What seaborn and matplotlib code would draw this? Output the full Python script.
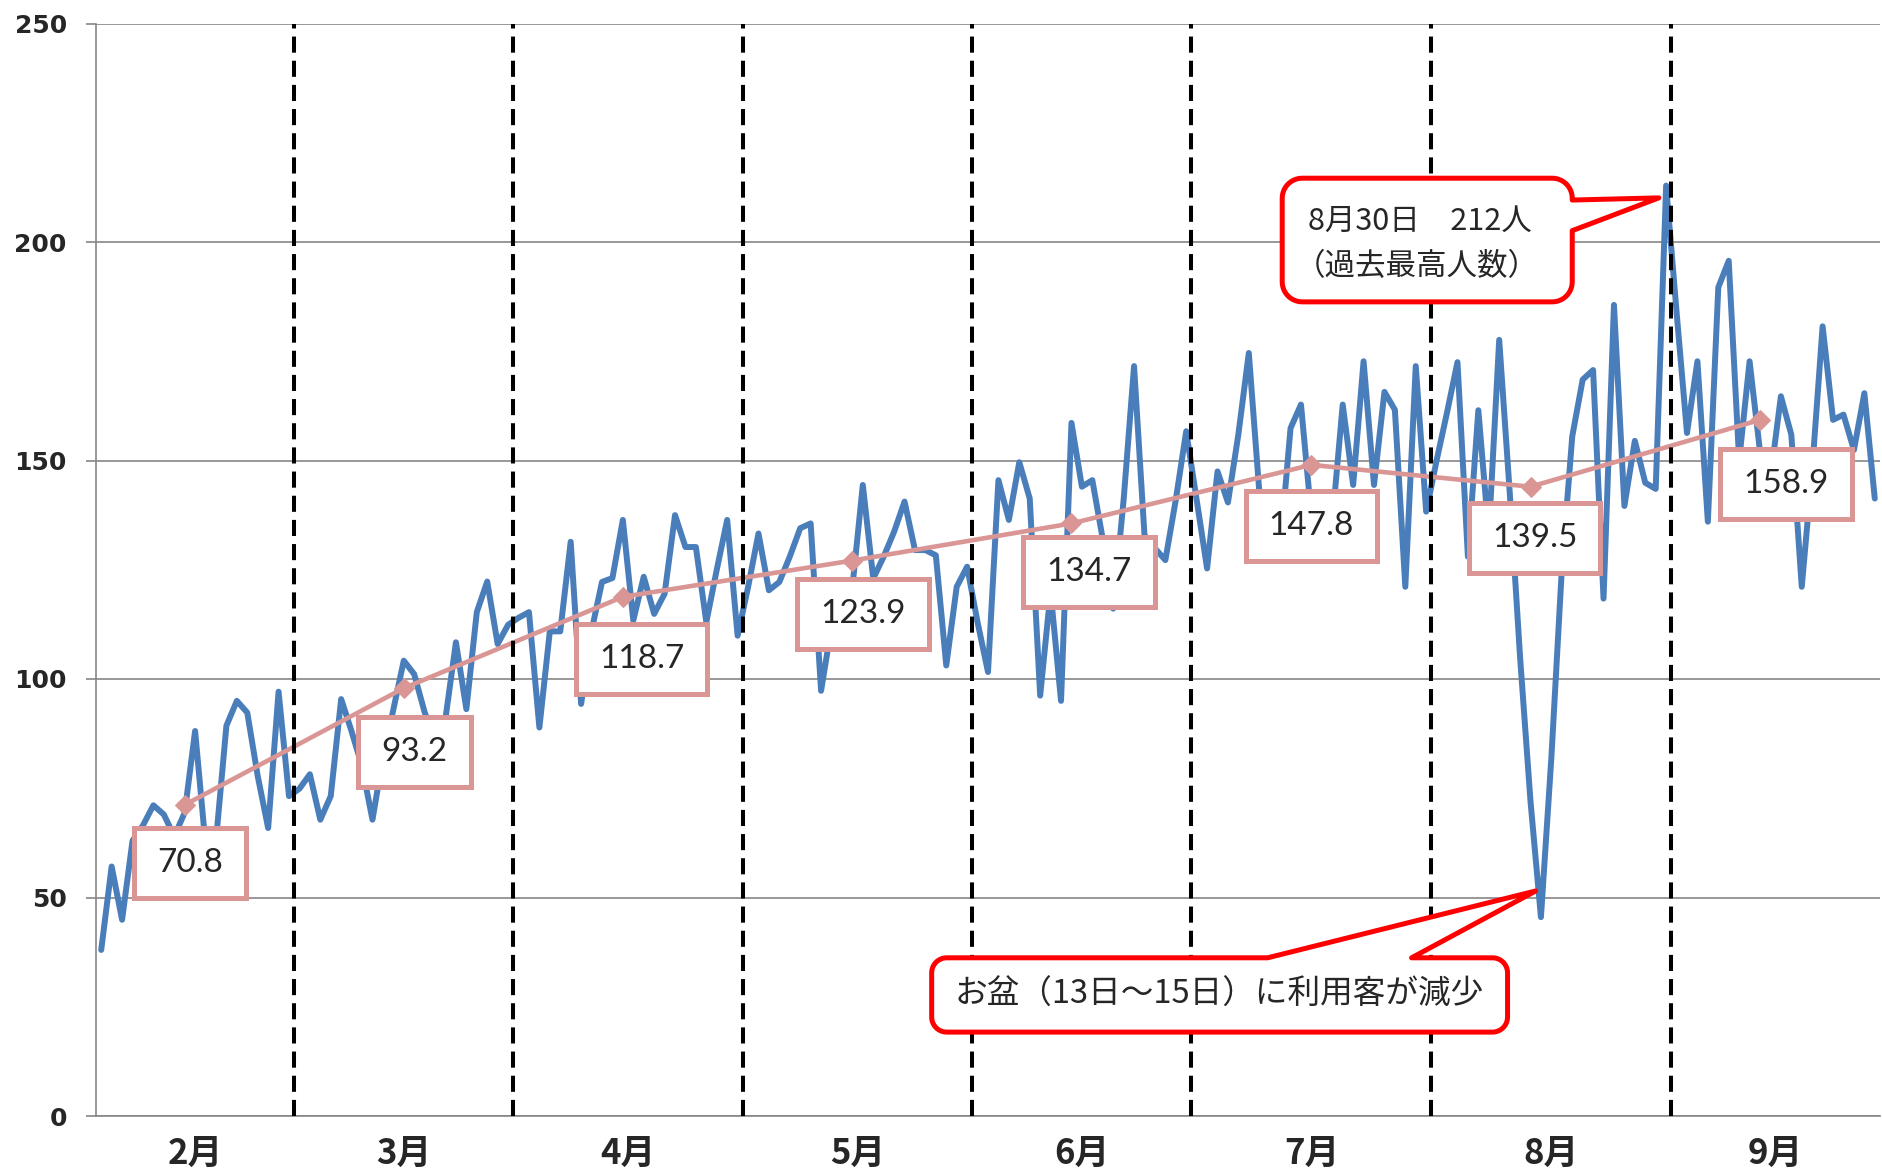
import numpy as np
import pandas as pd
import matplotlib
matplotlib.use('Agg')
import matplotlib.pyplot as plt
import seaborn as sns
from matplotlib.patches import Rectangle, Polygon


MONTHS = ['2月', '3月', '4月', '5月', '6月', '7月', '8月', '9月']

# daily visitors, one list per month (operating days only)
feb = [38.0, 57.1, 44.9, 63, 66.5, 71.1, 69.0, 64, 69.4, 88.1, 62, 63, 89.3,
       95.0, 92.3, 77.8, 65.9, 97.1, 73.2]
mar = [74.9, 78.2, 67.8, 73.2, 95.4, 88, 80, 67.8, 82, 93, 104.2, 101.1, 92.4,
       86, 91, 108.4, 93.1, 115.3, 122.3, 108, 112.4]
apr = [114, 115.3, 88.9, 110.9, 110.9, 131.4, 94.3, 111, 122.2, 123.1, 136.4,
       113.4, 123.4, 114.9, 119.5, 137.5, 130.2, 130.2, 113.0, 125, 136.4, 109.9]
may = [121, 133.3, 120.3, 122.2, 128, 134.5, 135.6, 97.3, 112, 110, 121, 144.4,
       123.0, 128, 133.7, 140.6, 129.5, 129.5, 128.3, 103.1, 121.1, 125.7]
jun = [113, 101.6, 145.5, 136.4, 149.6, 141.3, 96.2, 120, 95.0, 158.6, 144.0,
       145.5, 132, 116.1, 141, 171.6, 132.9, 129.9, 127.2, 141, 156.7]
jul = [141, 125.3, 147.5, 140.4, 156, 174.6, 143, 133, 130, 157.4, 162.8, 137,
       131, 136, 162.8, 144.4, 172.7, 144.4, 165.7, 161.6, 121.1, 171.6, 138.3]
aug = [150, 161, 172.5, 128, 161.5, 133, 177.6, 143, 105, 72, 45.5, 82, 125,
       155.5, 168.5, 170.7, 118.4, 185.6, 139.6, 154.5, 144.9, 143.5, 212.9]
sep = [184, 156.3, 172.7, 136, 189.6, 195.7, 150, 172.7, 152, 146, 164.7, 155.9,
       121.1, 148, 180.7, 159.3, 160.5, 152.4, 165.4, 141.3]

# monthly average series (as plotted) and the labels typed in the boxes
avg_day = [8, 29, 50, 72, 93, 116, 137, 159]
avg_line = [71.2, 97.9, 118.8, 127.1, 135.6, 149.0, 144.0, 159.3]
avg_text = ['70.8', '93.2', '118.7', '123.9', '134.7', '147.8', '139.5', '158.9']

# label box centres (day, value)
box_xy = [(8.5, 58.0), (30.0, 83.4), (51.8, 104.6), (73.0, 114.8),
          (94.7, 124.4), (116.0, 135.0), (137.4, 132.2), (161.5, 144.6)]

BLUE = '#4A7EBB'
PINK = '#D99694'
RED = '#FF0000'
GRID = '#868686'
CJK = ['Noto Sans CJK JP', 'DejaVu Sans']


def build_frame():
    month_lists = [feb, mar, apr, may, jun, jul, aug, sep]
    values, labels = [], []
    for name, vals in zip(MONTHS, month_lists):
        values += vals
        labels += [name] * len(vals)
    df = pd.DataFrame({'day': np.arange(len(values)), 'visitors': values,
                       'month': labels})
    return df


def callout_points(x0, y0, x1, y1, rx, ry, side, base, tip):
    pts = []

    def arc(cx, cy, a0, a1):
        for t in np.linspace(a0, a1, 12):
            pts.append((cx + rx * np.cos(t), cy + ry * np.sin(t)))

    arc(x0 + rx, y0 + ry, np.pi, 1.5 * np.pi)
    arc(x1 - rx, y0 + ry, 1.5 * np.pi, 2 * np.pi)
    if side == 'right':
        pts += [(x1, base[0]), tip, (x1, base[1])]
    arc(x1 - rx, y1 - ry, 0, 0.5 * np.pi)
    if side == 'top':
        pts += [(base[1], y1), tip, (base[0], y1)]
    arc(x0 + rx, y1 - ry, 0.5 * np.pi, np.pi)
    return pts


def draw_callout(ax, box, side, base, tip, radius_px):
    t = ax.transData
    sx = t.transform((1, 0))[0] - t.transform((0, 0))[0]
    sy = t.transform((0, 1))[1] - t.transform((0, 0))[1]
    pts = callout_points(box[0], box[1], box[2], box[3],
                         radius_px / sx, radius_px / sy, side, base, tip)
    ax.add_patch(Polygon(pts, closed=True, facecolor='white', edgecolor=RED,
                         linewidth=3.6, joinstyle='round', zorder=8,
                         clip_on=False))


def plot_chart(df):
    sns.set_style('white')
    plt.rcParams['font.family'] = ['DejaVu Sans']
    fig = plt.figure(figsize=(18.83, 11.75), dpi=100)
    ax = fig.add_axes([96 / 1883, 1 - 1116 / 1175, 1784 / 1883, 1092.5 / 1175])

    sns.lineplot(data=df, x='day', y='visitors', color=BLUE, linewidth=4.3,
                 ax=ax, zorder=3)
    avg_df = pd.DataFrame({'day': avg_day, 'avg': avg_line})
    sns.lineplot(data=avg_df, x='day', y='avg', color=PINK, linewidth=3.3,
                 marker='D', markersize=10, markeredgecolor=PINK, ax=ax, zorder=4)

    n = len(df)
    ax.set_xlim(-0.5, n - 0.5)
    ax.set_ylim(0, 250)

    counts = df.groupby('month', sort=False).size().values
    starts = np.concatenate([[0], np.cumsum(counts)[:-1]])
    centers = starts + (counts - 1) / 2
    for b in np.cumsum(counts)[:-1]:
        ax.axvline(b - 0.5, color='black', linewidth=2.9, ls=(0, (4, 2)),
                   zorder=5)

    ax.set_yticks(range(0, 251, 50))
    ax.yaxis.grid(True, color=GRID, linewidth=1.2)
    ax.set_axisbelow(True)
    ax.set_xticks(centers)
    ax.set_xticklabels(MONTHS, family=CJK, fontsize=25, fontweight='bold')
    for lab in ax.get_yticklabels():
        lab.set_fontweight('bold')
        lab.set_fontsize(18)
    ax.tick_params(axis='x', length=0, pad=14)
    ax.tick_params(axis='y', length=7, width=1.2, color=GRID, pad=14, left=True)
    ax.set_xlabel('')
    ax.set_ylabel('')
    for s in ['top', 'right']:
        ax.spines[s].set_visible(False)
    for s in ['left', 'bottom']:
        ax.spines[s].set_color(GRID)
        ax.spines[s].set_linewidth(1.2)

    # monthly average label boxes
    for (cx, cy), txt in zip(box_xy, avg_text):
        w = 10.8 if len(txt) == 4 else 12.6
        h = 16.0
        ax.add_patch(Rectangle((cx - w / 2, cy - h / 2), w, h, facecolor='white',
                               edgecolor=PINK, linewidth=3.6, zorder=7))
        ax.text(cx, cy, txt, ha='center', va='center', fontsize=24,
                family=['Lato', 'DejaVu Sans'], zorder=8)

    # callouts
    draw_callout(ax, (113.2, 186.3, 141.0, 214.6), 'right', (202.6, 209.6),
                 (149.3, 210.1), 20)
    ax.text(115.7, 204.8, '8月30日　212人', ha='left', va='center',
            fontsize=22, family=CJK, zorder=9)
    ax.text(114.4, 194.3, '（過去最高人数）', ha='left', va='center',
            fontsize=22, family=CJK, zorder=9)

    draw_callout(ax, (79.6, 19.2, 134.8, 36.2), 'top', (111.8, 125.6),
                 (137.5, 51.5), 15)
    ax.text(107.2, 27.7, 'お盆（13日～15日）に利用客が減少', ha='center',
            va='center', fontsize=23.5, family=CJK, zorder=9)

    fig.savefig('out.png', dpi=100)


if __name__ == '__main__':
    df = build_frame()
    plot_chart(df)
